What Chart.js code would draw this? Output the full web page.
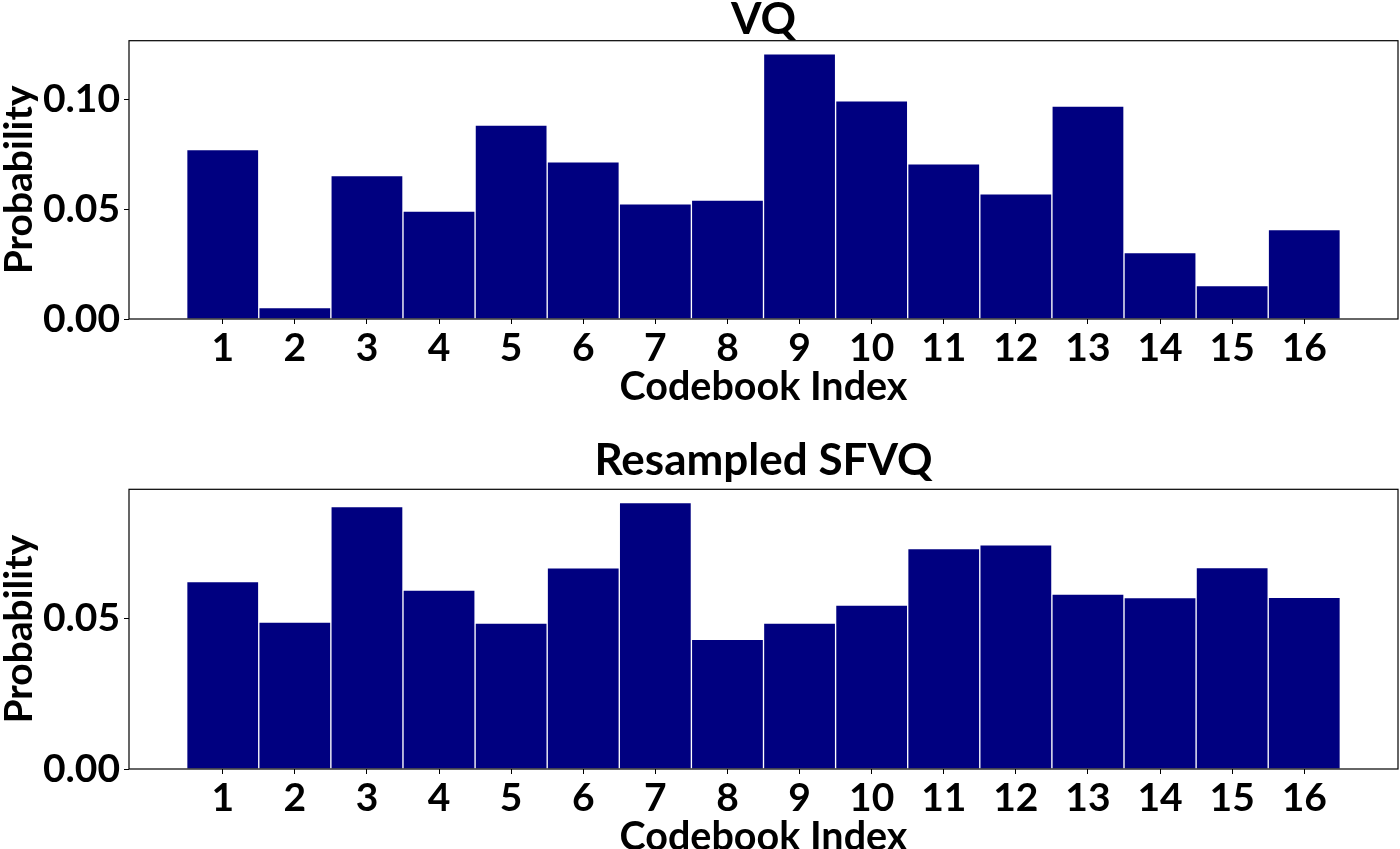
<!DOCTYPE html>
<html>
<head>
<meta charset="utf-8">
<script src="https://cdn.jsdelivr.net/npm/chart.js@4.4.1/dist/chart.umd.min.js"></script>
<style>
  html, body { margin: 0; padding: 0; background: #fff; width: 1400px; height: 849px; overflow: hidden; }
  .box { position: absolute; left: 0; width: 1400px; }
  #vqBox { top: 0; height: 420px; }
  #sfvqBox { top: 430px; height: 440px; }
</style>
</head>
<body>
<div class="box" id="vqBox"><canvas id="vqChart"></canvas></div>
<div class="box" id="sfvqBox"><canvas id="sfvqChart"></canvas></div>
<script>
// Data
const codebookIndex = [1, 2, 3, 4, 5, 6, 7, 8, 9, 10, 11, 12, 13, 14, 15, 16];
const vqProb = [0.0772, 0.0052, 0.0653, 0.0491, 0.0883, 0.0716, 0.0524, 0.0541,
                0.1207, 0.0994, 0.0707, 0.0570, 0.0970, 0.0302, 0.0152, 0.0407];
const sfvqProb = [0.0623, 0.0489, 0.0873, 0.0595, 0.0485, 0.0669, 0.0886, 0.0431,
                  0.0485, 0.0545, 0.0733, 0.0746, 0.0582, 0.0570, 0.0670, 0.0571];
const vqTicks = [0.00, 0.05, 0.10];
const sfvqTicks = [0.00, 0.05];

const FONT = 'Lato, "Open Sans", sans-serif';

// box around the plot area, like a matplotlib axes frame
const frame = {
    id: 'frame',
    afterDatasetsDraw(chart) {
        const { ctx, chartArea: a } = chart;
        ctx.save();
        ctx.strokeStyle = '#000';
        ctx.lineWidth = 1.2;
        ctx.strokeRect(a.left, a.top, a.right - a.left, a.bottom - a.top);
        ctx.restore();
    }
};

function makeConfig(title, values, yTicks, topPad, titlePad) {
    // matplotlib default 5% margins
    const yMax = Math.max(...values) * 1.05;
    const xMin = 0.5 - 0.05 * 16;
    const xMax = 16.5 + 0.05 * 16;
    return {
        type: 'bar',
        data: {
            datasets: [{
                data: codebookIndex.map((c, i) => ({ x: c, y: values[i] })),
                backgroundColor: '#000080',
                borderColor: '#ffffff',
                borderWidth: 1,
                barPercentage: 1.0,
                categoryPercentage: 1.0
            }]
        },
        options: {
            responsive: true,
            maintainAspectRatio: false,
            animation: false,
            layout: { padding: { top: topPad, right: 2, left: 0, bottom: 0 } },
            plugins: {
                legend: { display: false },
                tooltip: { enabled: false },
                title: {
                    display: true,
                    text: title,
                    fullSize: false,
                    color: '#000',
                    font: { family: FONT, size: 44, weight: 'bold', lineHeight: 0.8 },
                    padding: titlePad
                }
            },
            scales: {
                x: {
                    type: 'linear',
                    min: xMin,
                    max: xMax,
                    offset: false,
                    afterBuildTicks: (scale) => {
                        scale.ticks = codebookIndex.map(v => ({ value: v }));
                    },
                    afterFit: (scale) => { scale.height = 101; },
                    grid: { offset: false, drawOnChartArea: false, drawTicks: true, tickLength: 5, color: '#000' },
                    border: { display: false },
                    ticks: {
                        autoSkip: false,
                        maxRotation: 0,
                        color: '#000',
                        padding: 1,
                        font: { family: FONT, size: 39, weight: 'bold' },
                        callback: (v) => String(v)
                    },
                    title: {
                        display: true,
                        text: 'Codebook Index',
                        color: '#000',
                        font: { family: FONT, size: 39.5, weight: 'bold', lineHeight: 1.0 },
                        padding: { top: 0, bottom: 13 }
                    }
                },
                y: {
                    min: 0,
                    max: yMax,
                    afterBuildTicks: (scale) => {
                        scale.ticks = yTicks.map(v => ({ value: v }));
                    },
                    afterFit: (scale) => { scale.width = 129; },
                    grid: { drawOnChartArea: false, drawTicks: true, tickLength: 5, color: '#000' },
                    border: { display: false },
                    ticks: {
                        color: '#000',
                        padding: 4,
                        font: { family: FONT, size: 39, weight: 'bold' },
                        callback: (v) => v.toFixed(2)
                    },
                    title: {
                        display: true,
                        text: 'Probability',
                        color: '#000',
                        font: { family: FONT, size: 39, weight: 'bold', lineHeight: 1.0 },
                        padding: { top: 0, bottom: 0 }
                    }
                }
            }
        },
        plugins: [frame]
    };
}

const vqChart = new Chart(document.getElementById('vqChart').getContext('2d'),
    makeConfig('VQ', vqProb, vqTicks, 0, { top: 2.5, bottom: 3 }));
const sfvqChart = new Chart(document.getElementById('sfvqChart').getContext('2d'),
    makeConfig('Resampled SFVQ', sfvqProb, sfvqTicks, 11.4, { top: 2, bottom: 10.7 }));
</script>
</body>
</html>
